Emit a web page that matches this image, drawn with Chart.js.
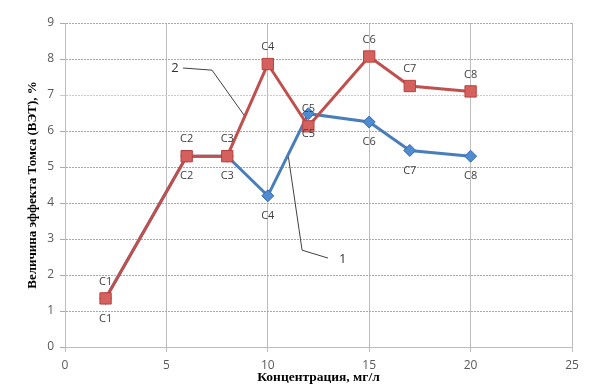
<!DOCTYPE html>
<html>
<head>
<meta charset="utf-8">
<script src="https://cdn.jsdelivr.net/npm/chart.js@4.4.0/dist/chart.umd.min.js"></script>
<style>
  body { margin: 0; background: #fff; }
  canvas { display: block; }
</style>
</head>
<body>
<canvas id="chart" width="592" height="389"></canvas>
<script>
// concentration, mg/l
var conc = [2, 6, 8, 10, 12, 15, 17, 20];
var pointNames = ['C1', 'C2', 'C3', 'C4', 'C5', 'C6', 'C7', 'C8'];
// series 1 (blue) and series 2 (red), effect value, %
var series1 = [1.35, 5.3, 5.3, 4.2, 6.48, 6.25, 5.46, 5.3];
var series2 = [1.35, 5.3, 5.3, 7.86, 6.13, 8.07, 7.25, 7.1];
var xTicks = [0, 5, 10, 15, 20, 25];
var yTicks = [0, 1, 2, 3, 4, 5, 6, 7, 8, 9];
// callout lines for the series numbers
var leader2 = [[5.82, 7.75], [7.25, 7.69], [8.88, 6.40]];
var leader1 = [[11.0, 5.34], [11.69, 2.69], [12.97, 2.47]];
var tags = [['2', 5.42, 7.75], ['1', 13.7, 2.44]];

function pts(xs, ys){
  return xs.map(function(x, i){ return {x: x, y: ys[i]} });
}
function pairs(list){
  return list.map(function(p){ return {x: p[0], y: p[1]} });
}

var labelPlugin = {
  id: 'pointLabels',
  afterDatasetsDraw: function(chart){
    var ctx = chart.ctx;
    ctx.save();
    ctx.font = '11px "Open Sans"';
    ctx.fillStyle = '#404040';
    ctx.textAlign = 'center';
    ctx.textBaseline = 'middle';
    var shift = [-17, 20];
    [0, 1].forEach(function(di){
      chart.getDatasetMeta(di).data.forEach(function(el, i){
        ctx.fillText(pointNames[i], el.x, el.y + shift[di]);
      })
    })
    ctx.font = '13px "Open Sans"';
    ctx.fillStyle = '#333';
    var xs = chart.scales.x, ys = chart.scales.y;
    tags.forEach(function(t){
      ctx.fillText(t[0], xs.getPixelForValue(t[1]), ys.getPixelForValue(t[2]));
    })
    ctx.restore();
  }
};

new Chart(document.getElementById('chart'), {
  type: 'line',
  data: {
    datasets: [
      {
        label: '2',
        data: pts(conc, series2),
        borderColor: '#C0504D',
        borderWidth: 3,
        pointStyle: 'rect',
        pointRadius: 8,
        pointBackgroundColor: '#D4615E',
        pointBorderColor: '#B8403D',
        pointBorderWidth: 1
      },
      {
        label: '1',
        data: pts(conc, series1),
        borderColor: '#4A7EBB',
        borderWidth: 3,
        pointStyle: 'rectRot',
        pointRadius: 6,
        pointBackgroundColor: '#4F8BD0',
        pointBorderColor: '#3A6CA8',
        pointBorderWidth: 1
      },
      {
        data: pairs(leader2),
        borderColor: '#404040',
        borderWidth: 1,
        pointRadius: 0
      },
      {
        data: pairs(leader1),
        borderColor: '#404040',
        borderWidth: 1,
        pointRadius: 0
      }
    ]
  },
  options: {
    responsive: false,
    animation: false,
    layout: { padding: { top: 23, right: 20, left: 0, bottom: 0 } },
    plugins: { legend: { display: false }, tooltip: { enabled: false } },
    scales: {
      x: {
        type: 'linear',
        min: 0, max: 25,
        afterBuildTicks: function(s){ s.ticks = xTicks.map(function(v){ return {value: v} }) },
        afterFit: function(s){ s.height = 42 },
        ticks: { color: '#595959', font: { family: 'Open Sans', size: 12 }, padding: 6, maxRotation: 0 },
        grid: {
          color: function(c){ return c.tick && c.tick.value == 15 ? '#cbb0d8' : '#bdbdbd' },
          tickLength: 5
        },
        border: { color: '#bdbdbd' },
        title: {
          display: true,
          text: 'Концентрация, мг/л',
          color: '#000',
          font: { family: 'Liberation Serif', size: 13.5, weight: 'bold' },
          padding: { top: 0, bottom: 3 }
        }
      },
      y: {
        min: 0, max: 9,
        afterBuildTicks: function(s){ s.ticks = yTicks.map(function(v){ return {value: v} }) },
        afterFit: function(s){ s.width = 65 },
        ticks: { color: '#595959', font: { family: 'Open Sans', size: 12 }, padding: 6 },
        grid: {
          color: function(c){ return c.tick && c.tick.value == 7 ? '#d2cf9c' : '#a8a8a8' },
          tickLength: 5
        },
        border: { color: '#bdbdbd', dash: [2, 1] },
        title: {
          display: true,
          text: 'Величина эффекта Томса (ВЭТ), %',
          color: '#000',
          font: { family: 'Liberation Serif', size: 13, weight: 'bold' },
          padding: { top: 25, bottom: 0 }
        }
      }
    }
  },
  plugins: [labelPlugin]
});
</script>
</body>
</html>
